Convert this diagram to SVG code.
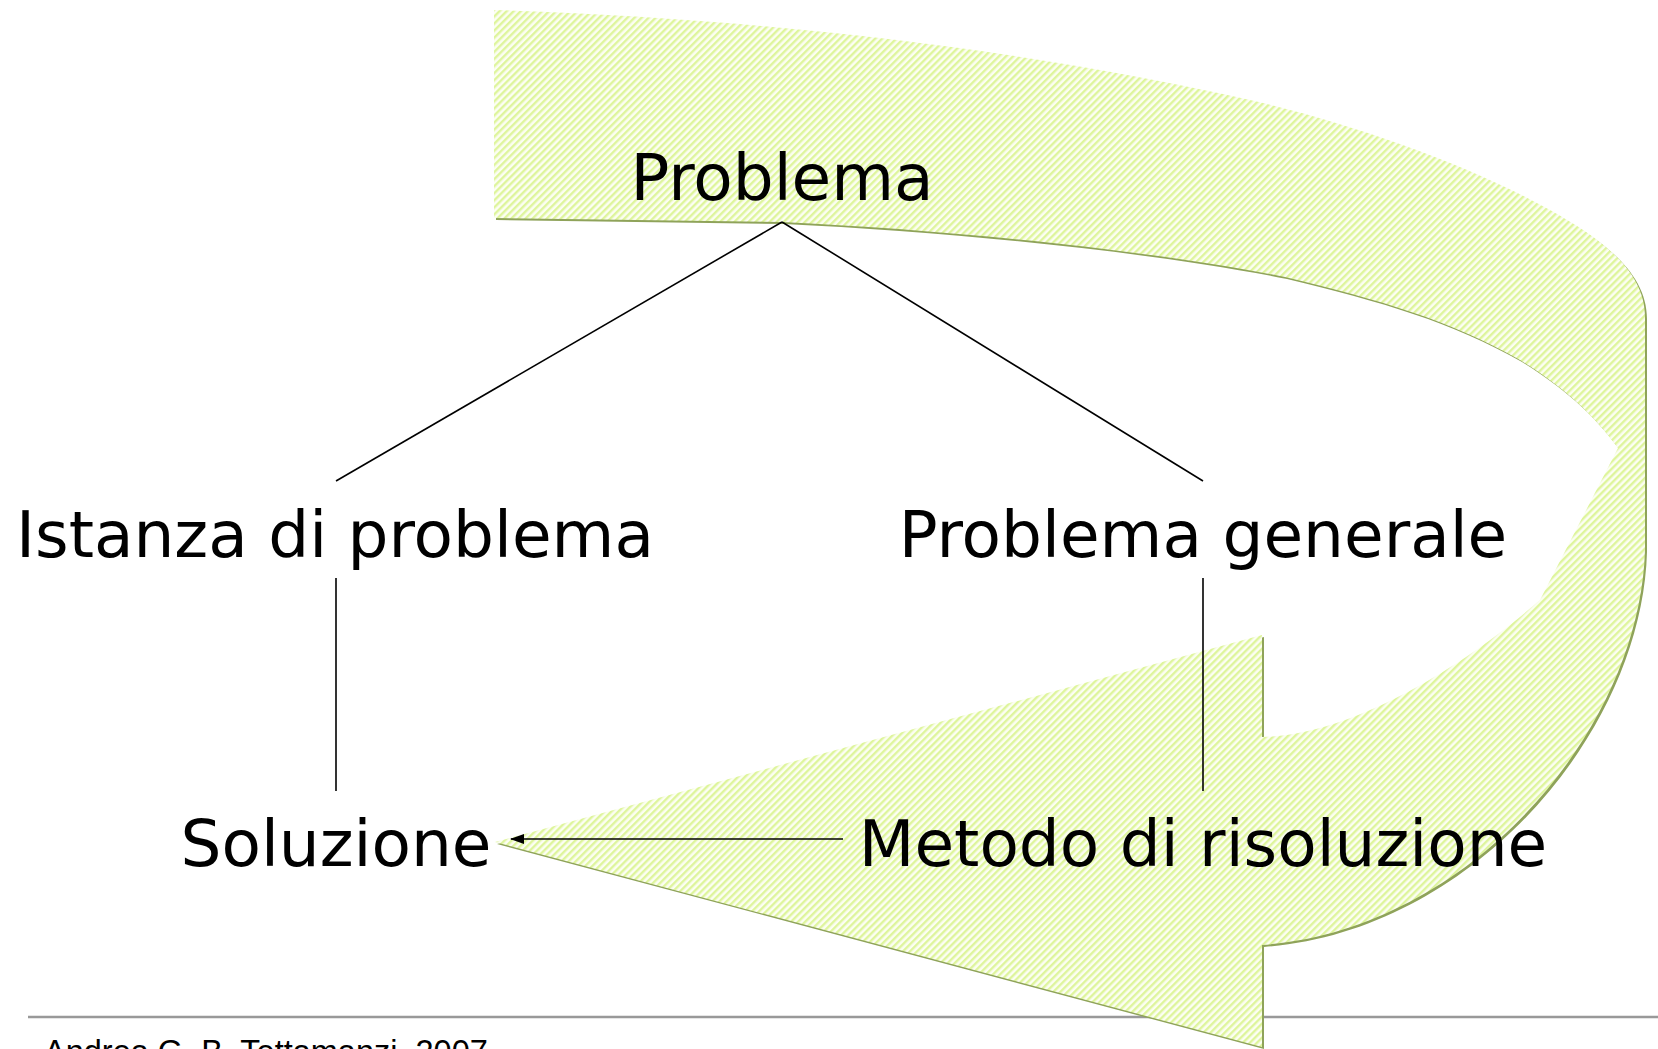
<svg xmlns="http://www.w3.org/2000/svg" width="1658" height="1049" viewBox="0 0 1658 1049">
  <style>
    .lbl { font-family: "DejaVu Sans", Verdana, sans-serif; font-size: 64.5px; fill: #000; text-anchor: middle; }
    .foot { font-family: "Liberation Sans", Arial, sans-serif; font-size: 32.5px; fill: #000; }
    .edge { stroke: #000; stroke-width: 1.6; fill: none; }
  </style>
  <defs>
    <pattern id="hatch" width="5" height="5" patternUnits="userSpaceOnUse" patternTransform="rotate(45)">
      <rect width="5" height="5" fill="#FCFEF3"/>
      <rect width="2.4" height="5" fill="#DEF59C"/>
    </pattern>
    <path id="bigArrow" d="M 494 10 C 800 20, 1050 55, 1250 100 C 1350 123, 1470 165, 1550 210 C 1600 238, 1645 270, 1645 317 L 1645 550 C 1640 730, 1470 930, 1262 945 L 1262 1047 L 495 842 L 1262 635 L 1262 737 C 1350 735, 1460 670, 1540 600 L 1618 448 C 1590 410, 1560 385, 1520 360 C 1450 320, 1380 300, 1285 277 C 1150 250, 950 230, 782 222 L 494 218 Z"/>
    <marker id="ah" viewBox="0 0 14 10" refX="13" refY="5" markerWidth="14" markerHeight="10" markerUnits="userSpaceOnUse" orient="auto">
      <path d="M 0 0 L 14 5 L 0 10 Z" fill="#000"/>
    </marker>
  </defs>

  <g id="footer">
    <line x1="28" y1="1017" x2="1658" y2="1017" stroke="#999" stroke-width="2.5"/>
    <text class="foot" x="44" y="1063">Andrea G. B. Tettamanzi, 2007</text>
  </g>

  <g id="cycle-arrow">
    <use href="#bigArrow" transform="translate(2,2)" fill="#8FA35A"/>
    <use href="#bigArrow" fill="url(#hatch)"/>
  </g>

  <g id="connectors">
    <line class="edge" x1="782" y1="222" x2="336" y2="481"/>
    <line class="edge" x1="782" y1="222" x2="1203" y2="481"/>
    <line class="edge" x1="336" y1="578" x2="336" y2="791"/>
    <line class="edge" x1="1203" y1="578" x2="1203" y2="791"/>
    <line class="edge" x1="843" y1="839" x2="511" y2="839" stroke-width="2" marker-end="url(#ah)"/>
  </g>

  <g id="node-problema"><text class="lbl" x="782" y="200">Problema</text></g>
  <g id="node-istanza"><text class="lbl" x="335" y="557">Istanza di problema</text></g>
  <g id="node-generale"><text class="lbl" x="1203" y="557">Problema generale</text></g>
  <g id="node-soluzione"><text class="lbl" x="336" y="866">Soluzione</text></g>
  <g id="node-metodo"><text class="lbl" x="1203" y="866">Metodo di risoluzione</text></g>
</svg>
